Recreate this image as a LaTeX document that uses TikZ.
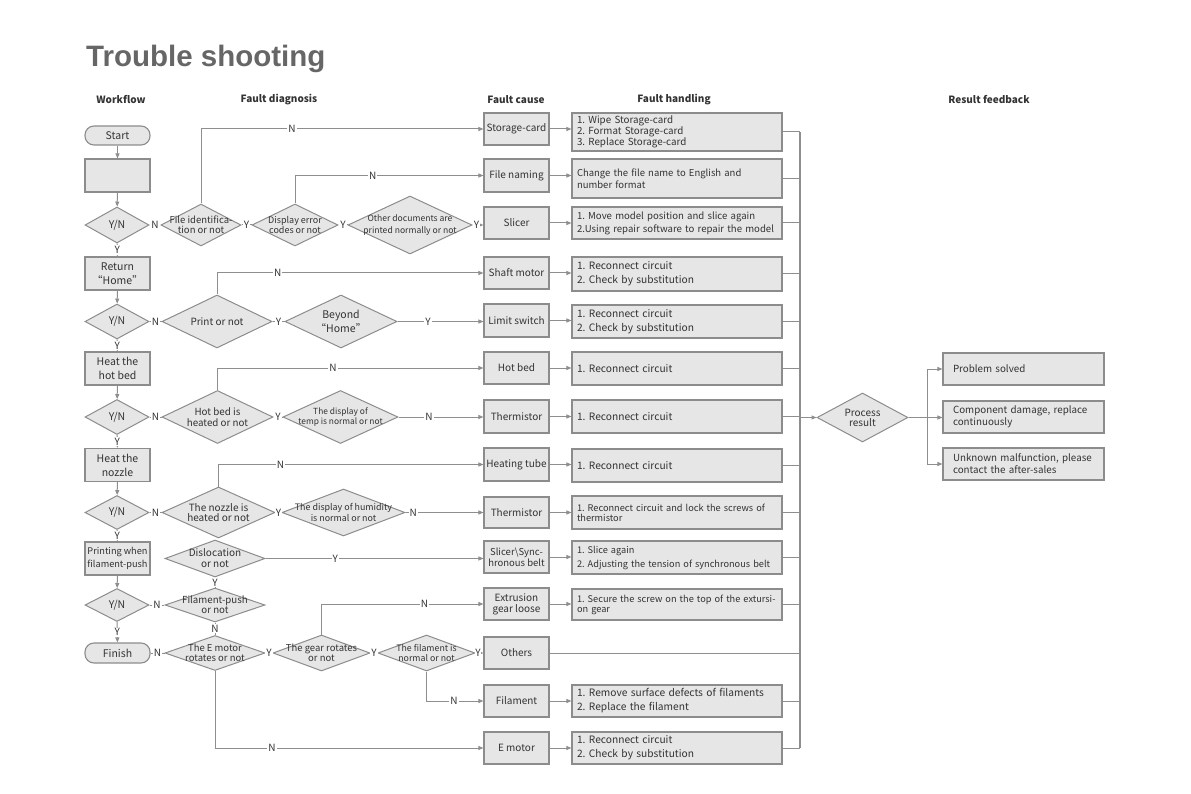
\documentclass[tikz,border=0pt]{standalone}
\usepackage{fontspec}
\setmainfont{Noto Sans CJK SC}
\newfontfamily\titlefont{Liberation Sans}
\usetikzlibrary{shapes.geometric,arrows.meta}
\definecolor{boxfill}{HTML}{E6E6E7}
\definecolor{boxdraw}{HTML}{8C8C8C}
\definecolor{linecol}{HTML}{8E8E8E}
\definecolor{txt}{HTML}{333333}
\definecolor{titlecol}{HTML}{666666}
\tikzset{
  base/.style={draw=boxdraw, fill=boxfill, line width=1.1pt, text=txt, inner sep=0pt},
  wbox/.style={base, rectangle, minimum width=65pt, minimum height=33pt, align=center, font=\fontsize{10.5}{14}\selectfont},
  term/.style={wbox, rounded corners=9pt, minimum height=19pt},
  cbox/.style={base, rectangle, minimum width=65pt, minimum height=32pt, align=center, font=\fontsize{10}{11}\selectfont},
  hbox/.style={base, rectangle, minimum width=210pt, minimum height=33pt, text width=200pt, inner xsep=5pt, align=left, font=\fontsize{10.2}{14}\selectfont},
  rbox/.style={base, rectangle, minimum width=161pt, minimum height=32pt, text width=141pt, inner xsep=10pt, align=left, font=\fontsize{9.8}{12}\selectfont},
  dia/.style={base, diamond, line width=1pt},
  dtxt/.style={text=txt, align=center, inner sep=0pt},
  conn/.style={draw=linecol, line width=1pt},
  arr/.style={conn, -{Triangle[length=5pt,width=4pt]}},
  lab/.style={fill=white, inner sep=1pt, text=txt, font=\fontsize{10}{10}\selectfont},
  head/.style={text=txt, font=\bfseries\fontsize{10}{10}\selectfont},
}
\newcommand\hl[1]{\mbox{#1}}
\newcommand\dmd[7][\fontsize{9.5}{10}\selectfont]{%
  \node[dia, minimum width=#5pt, minimum height=#6pt] (#2) at (#3,#4) {};
  \node[dtxt, font=#1] at (#2.center) {#7};}
\begin{document}
\frenchspacing
\begin{tikzpicture}[x=1pt,y=-1pt]
\useasboundingbox (0,0) rectangle (1191,794);
% title and headers
\node[anchor=base west, inner sep=0pt, text=titlecol, font=\titlefont\bfseries\fontsize{29.5}{30}\selectfont] (title) at (86,67) {Trouble shooting};
\node[head] (hw) at (121,100) {Workflow};
\node[head] (hd) at (279,100) {Fault diagnosis};
\node[head] (hc) at (516,100) {Fault cause};
\node[head] (hh) at (674,100) {Fault handling};
\node[head] (hr) at (989,100) {Result feedback};
% workflow
\node[term] (start) at (117.5,135.5) {Start};
\node[wbox] (b0) at (117.5,175.5) {};
\dmd[\fontsize{10.5}{12}\selectfont]{yn1}{117}{225}{64}{36}{Y/N}
\node[wbox] (b1) at (117.5,273.5) {Return\\“Home”};
\dmd[\fontsize{10.5}{12}\selectfont]{yn2}{117}{321.5}{64}{35}{Y/N}
\node[wbox] (b2) at (117.5,368.5) {Heat the\\hot bed};
\dmd[\fontsize{10.5}{12}\selectfont]{yn3}{117}{417}{64}{35}{Y/N}
\node[wbox] (b3) at (117.5,465) {Heat the\\nozzle};
\dmd[\fontsize{10.5}{12}\selectfont]{yn4}{117}{512.5}{64}{34}{Y/N}
\node[wbox, font=\fontsize{9.2}{13}\selectfont] (b4) at (117.5,558.5) {Printing when\\filament-push};
\dmd[\fontsize{10.5}{12}\selectfont]{yn5}{117}{605}{64}{33}{Y/N}
\node[term, minimum height=20pt] (finish) at (117.5,653) {Finish};
\draw[arr] (start) -- (b0);
\draw[arr] (b0) -- (yn1);
\draw[arr] (yn1) -- node[lab]{Y} (b1);
\draw[arr] (b1) -- (yn2);
\draw[arr] (yn2) -- node[lab]{Y} (b2);
\draw[arr] (b2) -- (yn3);
\draw[arr] (yn3) -- node[lab]{Y} (b3);
\draw[arr] (b3) -- (yn4);
\draw[arr] (yn4) -- node[lab]{Y} (b4);
\draw[arr] (b4) -- (yn5);
\draw[arr] (yn5) -- node[lab]{Y} (finish);
% diagnosis diamonds
\dmd{d1}{201}{225}{80}{42}{File identifica-\\tion or not}
\dmd[\fontsize{9}{10}\selectfont]{d2}{295}{225}{86}{42}{Display error\\codes or not}
\dmd[\fontsize{8.6}{12}\selectfont]{d3}{410}{225}{124}{58}{Other documents are\\printed normally or not}
\dmd[\fontsize{10}{14}\selectfont]{d4}{217}{321.5}{110}{53}{Print or not}
\dmd[\fontsize{10.5}{14}\selectfont]{d5}{341}{321.5}{112}{53}{Beyond\\“Home”}
\dmd[\fontsize{9.8}{11}\selectfont]{d6}{217.5}{417}{111}{53}{Hot bed is\\heated or not}
\dmd[\fontsize{8.4}{10}\selectfont]{d7}{340.5}{417}{115}{53}{The display of\\temp is normal or not}
\dmd[\fontsize{10}{10}\selectfont]{d8}{218.5}{512.5}{113}{51}{The nozzle is\\heated or not}
\dmd[\fontsize{8.9}{11}\selectfont]{d9}{343.5}{512.5}{123}{47}{The display of humidity\\is normal or not}
\dmd[\fontsize{10}{11}\selectfont]{d10}{215}{558.5}{100}{37}{Dislocation\\or not}
\dmd[\fontsize{9.7}{10}\selectfont]{d11}{215}{605}{100}{34}{Filament-push\\or not}
\dmd[\fontsize{9.5}{10}\selectfont]{d12}{215}{653}{100}{35}{The E motor\\rotates or not}
\dmd[\fontsize{9.5}{10}\selectfont]{d13}{321.5}{653}{97}{36}{The gear rotates\\or not}
\dmd[\fontsize{8.8}{10}\selectfont]{d14}{426.5}{653}{97}{36}{The filament is\\normal or not}
% fault cause
\node[cbox] (c1) at (516.5,129) {Storage-card};
\node[cbox, minimum height=33pt] (c2) at (516.5,175.5) {File naming};
\node[cbox] (c3) at (516.5,223) {Slicer};
\node[cbox] (c4) at (516.5,273) {Shaft motor};
\node[cbox, minimum height=33pt] (c5) at (516.5,320.5) {Limit switch};
\node[cbox] (c6) at (516.5,368) {Hot bed};
\node[cbox, minimum height=33pt] (c7) at (516.5,416.5) {Thermistor};
\node[cbox, minimum height=33pt] (c8) at (516.5,464.5) {Heating tube};
\node[cbox, minimum height=31pt] (c9) at (516.5,512.5) {Thermistor};
\node[cbox, font=\fontsize{9.5}{11}\selectfont] (c10) at (516.5,557) {Slicer\textbackslash Sync-\\hronous belt};
\node[cbox] (c11) at (516.5,604) {Extrusion\\gear loose};
\node[cbox] (c12) at (516.5,653) {Others};
\node[cbox] (c13) at (516.5,701) {Filament};
\node[cbox] (c14) at (516.5,748) {E motor};
% fault handling
\node[hbox, minimum height=38pt, font=\fontsize{9.8}{10}\selectfont] (h1) at (677,132) {\hl{1. Wipe Storage-card}\\\hl{2. Format Storage-card}\\\hl{3. Replace Storage-card}};
\node[hbox, minimum height=39pt, font=\fontsize{9.5}{12}\selectfont] (h2) at (677,178.5) {\hl{Change the file name to English and}\\\hl{number format}};
\node[hbox, minimum height=32pt, font=\fontsize{9.6}{13}\selectfont] (h3) at (677,223) {\hl{1. Move model position and slice again}\\\hl{2.Using repair software to repair the model}};
\node[hbox, minimum height=34pt] (h4) at (677,274) {\hl{1. Reconnect circuit}\\\hl{2. Check by substitution}};
\node[hbox] (h5) at (677,321.5) {\hl{1. Reconnect circuit}\\\hl{2. Check by substitution}};
\node[hbox] (h6) at (677,368.5) {\hl{1. Reconnect circuit}};
\node[hbox] (h7) at (677,416.5) {\hl{1. Reconnect circuit}};
\node[hbox] (h8) at (677,465.5) {\hl{1. Reconnect circuit}};
\node[hbox, font=\fontsize{9.2}{10}\selectfont] (h9) at (677,512.5) {\hl{1. Reconnect circuit and lock the screws of}\\\hl{thermistor}};
\node[hbox, font=\fontsize{9.2}{14}\selectfont] (h10) at (677,557.5) {\hl{1. Slice again}\\\hl{2. Adjusting the tension of synchronous belt}};
\node[hbox, minimum height=31pt, font=\fontsize{9.2}{10}\selectfont] (h11) at (677,604.5) {\hl{1. Secure the screw on the top of the extursi-}\\\hl{on gear}};
\node[hbox, minimum height=32pt] (h13) at (677,701) {\hl{1. Remove surface defects of filaments}\\\hl{2. Replace the filament}};
\node[hbox, minimum height=32pt] (h14) at (677,748) {\hl{1. Reconnect circuit}\\\hl{2. Check by substitution}};
% result
\dmd[\fontsize{10}{10}\selectfont]{proc}{862.5}{417.5}{91}{49}{Process\\result}
\node[rbox] (r1) at (1023.5,369) {\hl{Problem solved}};
\node[rbox] (r2) at (1023.5,417) {\hl{Component damage, replace}\\\hl{continuously}};
\node[rbox] (r3) at (1023.5,464) {\hl{Unknown malfunction, please}\\\hl{contact the after-sales}};
% connectors: workflow -> diagnosis
\draw[conn] (yn1) -- node[lab]{N} (d1);
\draw[conn] (yn2) -- node[lab]{N} (d4);
\draw[conn] (yn3) -- node[lab]{N} (d6);
\draw[conn] (yn4) -- node[lab]{N} (d8);
\draw[conn] (yn5) -- node[lab]{N} (d11);
\draw[conn] (finish) -- node[lab]{N} (d12);
% diagnosis chains
\draw[conn] (d1) -- node[lab]{Y} (d2);
\draw[conn] (d2) -- node[lab]{Y} (d3);
\draw[arr] (d3.east) -- node[lab, inner sep=0.5pt, pos=0.36]{Y} (d3.east -| c3.west);
\draw[arr] (d1.north) |- node[lab, pos=0.661]{N} (c1.west);
\draw[arr] (d2.north) |- node[lab, pos=0.706]{N} (c2.west);
\draw[conn] (d4) -- node[lab]{Y} (d5);
\draw[arr] (d5.east) -- node[lab, pos=0.356]{Y} (d5.east -| c5.west);
\draw[arr] (d4.north) |- node[lab, pos=0.614]{N} (c4.west);
\draw[conn] (d6) -- node[lab]{Y} (d7);
\draw[arr] (d7.east) -- node[lab, pos=0.36]{N} (d7.east -| c7.west);
\draw[arr] (d6.north) |- node[lab, pos=0.717]{N} (c6.west);
\draw[conn] (d8) -- node[lab]{Y} (d9);
\draw[arr] (d9.east) -- node[lab, pos=0.1]{N} (d9.east -| c9.west);
\draw[arr] (d8.north) |- node[lab, pos=0.617]{N} (c8.west);
\draw[arr] (d10.east) -- node[lab, pos=0.32]{Y} (d10.east -| c10.west);
\draw[conn] (d11) -- node[lab]{Y} (d10);
\draw[conn] (d11) -- node[lab]{N} (d12);
\draw[conn] (d12) -- node[lab]{Y} (d13);
\draw[conn] (d13) -- node[lab]{Y} (d14);
\draw[arr] (d14.east) -- node[lab, inner sep=0.5pt, pos=0.33]{Y} (d14.east -| c12.west);
\draw[arr] (d13.north) |- node[lab, pos=0.818]{N} (c11.west);
\draw[arr] (d14.south) |- node[lab, pos=0.741]{N} (c13.west);
\draw[arr] (d12.south) |- node[lab, pos=0.606]{N} (c14.west);
% cause -> handling
\foreach \i in {1,...,11,13,14} {\draw[arr] (c\i.east) -- (c\i.east -| h\i.west);}
% bus
\coordinate (busT) at (800,132);
\coordinate (busB) at (800,748);
\draw[conn, line width=1.6pt] (busT) -- (busB);
\foreach \i in {1,...,11,13,14} {\draw[conn] (h\i.east) -- (h\i.east -| busT);}
\draw[conn] (c12.east) -- (c12.east -| busT);
\draw[arr] (proc.west -| busT) -- (proc.west);
\coordinate (fork) at (927,417.5);
\draw[conn] (proc.east) -- (fork);
\draw[arr] (fork) |- (r1.west);
\draw[arr] (fork) -- (fork -| r2.west);
\draw[arr] (fork) |- (r3.west);
\end{tikzpicture}
\end{document}
